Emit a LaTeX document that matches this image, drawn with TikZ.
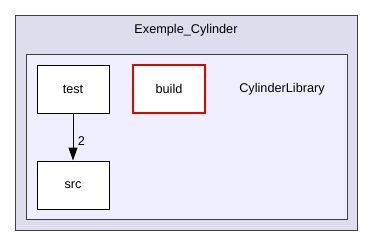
\documentclass[tikz,border=0pt]{standalone}
\usepackage{fontspec}
\setmainfont{Liberation Sans}
\usetikzlibrary{arrows.meta, positioning}
\definecolor{clusterouter}{RGB}{221,221,238}
\definecolor{clusterinner}{RGB}{238,238,255}
\definecolor{clusteredge}{RGB}{64,64,64}
\definecolor{dirred}{RGB}{230,0,0}
\tikzset{
  dirnode/.style={rectangle, draw=black, fill=white, line width=1pt,
    minimum width=72pt, minimum height=48pt, inner sep=0pt,
    font=\fontsize{12.7}{15}\selectfont},
  reddirnode/.style={dirnode, draw=dirred, line width=1.3pt},
  clusterbox/.style={rectangle, draw=clusteredge, line width=1pt},
  deparrow/.style={-{Triangle[length=13pt, width=9pt]}, line width=1pt, color=black}
}

\begin{document}
\begin{tikzpicture}[x=1pt, y=-1pt]
  \useasboundingbox (0,0) rectangle (373,247);

  % Project and library clusters
  \draw[clusterbox, fill=clusterouter] (15,15) rectangle (357,230);
  \node[font=\fontsize{12.7}{15}\selectfont] (projlabel) at (186,30) {Exemple\_Cylinder};
  \draw[clusterbox, fill=clusterinner] (26,54) rectangle (347,219);
  \node[font=\fontsize{12.7}{15}\selectfont] (liblabel) at (282,89) {CylinderLibrary};

  % Directories
  \node[dirnode] (test) at (73,89) {test};
  \node[reddirnode] (build) at (169,89) {build};
  \node[dirnode] (src) at (73,185) {src};

  % Dependency
  \draw[deparrow] (test) -- (src) node[midway, right=1pt, yshift=-4pt, font=\fontsize{12.7}{15}\selectfont] {2};
\end{tikzpicture}
\end{document}
